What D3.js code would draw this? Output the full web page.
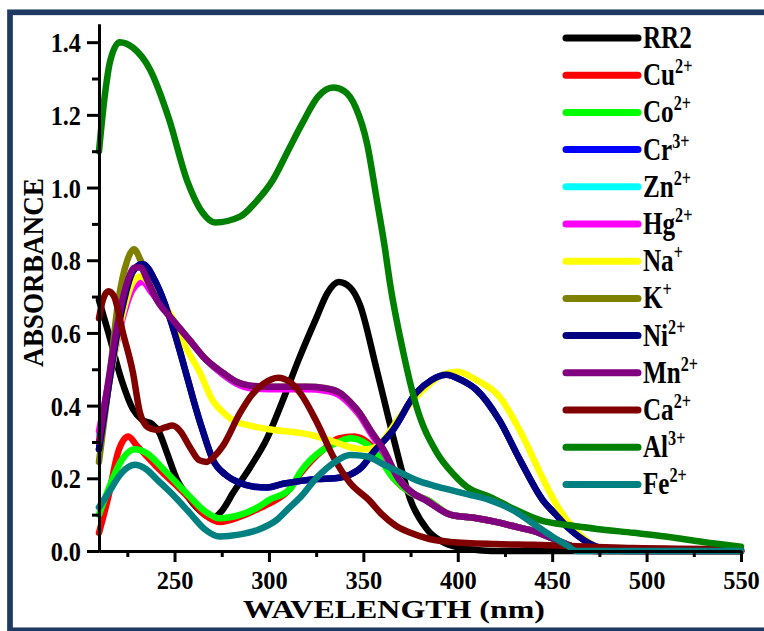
<!DOCTYPE html>
<html>
<head>
<meta charset="utf-8">
<script src="https://cdn.jsdelivr.net/npm/d3@7"></script>
<style>
  html, body { margin: 0; padding: 0; background: #ffffff; }
  svg { display: block; }
</style>
</head>
<body>
<div id="chart"></div>
<script>
// ---- data: [wavelength (nm), absorbance] ----
const rr2 = [[210,0.69],[215,0.6],[222,0.47],[228,0.39],[233,0.36],[238,0.35],[242,0.325],[246,0.27],[251,0.2],[257,0.15],[263,0.113],[270,0.09],[275,0.11],[281,0.16],[290,0.23],[299,0.31],[307,0.41],[316,0.53],[325,0.64],[331,0.71],[337,0.74],[343,0.725],[348,0.68],[357,0.5],[366,0.31],[375,0.14],[384,0.058],[392,0.025],[400,0.01],[410,0.003],[420,0],[550,0]];
const cu = [[210,0.05],[215,0.15],[220,0.27],[225.5,0.315],[230,0.29],[240,0.235],[250,0.185],[258,0.145],[266,0.1],[274,0.08],[285,0.095],[294,0.115],[300,0.13],[311,0.17],[317,0.215],[329,0.28],[337,0.31],[345,0.315],[352,0.3],[358,0.265],[366,0.2],[375,0.16],[384,0.14],[396,0.1],[410,0.09],[422,0.078],[432,0.065],[440,0.055],[450,0.035],[458,0.018],[466,0.003],[475,0],[550,0]];
const co = [[210,0.10],[215,0.17],[222,0.25],[229,0.28],[235,0.27],[245,0.22],[258,0.15],[266,0.11],[274,0.09],[285,0.1],[294,0.12],[300,0.14],[311,0.17],[317,0.22],[329,0.28],[337,0.30],[343,0.31],[350,0.30],[355,0.28],[366,0.2],[375,0.16],[384,0.14],[396,0.1],[410,0.09],[422,0.078],[432,0.065],[440,0.055],[450,0.035],[458,0.018],[466,0.003],[475,0],[550,0]];
const cr = [[210,0.28],[215,0.45],[222,0.66],[228,0.77],[233,0.79],[240,0.74],[247.6,0.64],[256.6,0.48],[260,0.416],[265,0.33],[270.4,0.25],[277,0.21],[284.7,0.187],[292,0.177],[299,0.175],[307.5,0.185],[317,0.193],[325.5,0.198],[335,0.2],[343,0.21],[349,0.23],[355,0.27],[365.7,0.333],[378,0.435],[386,0.47],[394,0.485],[402,0.47],[410,0.443],[422,0.36],[433,0.25],[445,0.14],[452,0.1],[458,0.066],[464,0.04],[470,0.02],[480,0.003],[490,0],[550,0]];
const zn = [[210,0.32],[215,0.46],[222,0.64],[228,0.74],[233,0.75],[240,0.7],[249,0.636],[258,0.58],[266,0.53],[275.7,0.485],[283,0.46],[290,0.45],[300,0.447],[320,0.447],[330,0.443],[337.6,0.43],[343,0.405],[348,0.375],[354,0.325],[360.5,0.275],[369,0.196],[376,0.16],[383,0.14],[396,0.1],[410,0.09],[422,0.078],[432,0.065],[440,0.055],[450,0.035],[458,0.018],[466,0.003],[475,0],[550,0]];
const hg = [[210,0.33],[215,0.46],[222,0.63],[228,0.72],[233,0.74],[238,0.71],[249,0.636],[258,0.58],[266,0.53],[275.7,0.485],[283,0.46],[290,0.448],[300,0.445],[320,0.445],[330,0.441],[337.6,0.428],[343,0.403],[348,0.373],[354,0.323],[360.5,0.273],[369,0.196],[376,0.16],[383,0.14],[396,0.1],[410,0.09],[422,0.078],[432,0.065],[440,0.055],[450,0.035],[458,0.018],[466,0.003],[475,0],[550,0]];
const na = [[210,0.3],[215,0.45],[222,0.64],[228,0.74],[232,0.755],[240,0.71],[249,0.64],[256,0.56],[263.5,0.49],[270,0.416],[276,0.38],[281,0.36],[290,0.345],[300,0.335],[307.5,0.33],[316.5,0.325],[325.5,0.315],[337.6,0.295],[345,0.283],[352,0.28],[356,0.285],[360.5,0.305],[369.4,0.37],[381.6,0.443],[392,0.485],[400,0.493],[410,0.47],[422,0.425],[433,0.33],[445,0.2],[452,0.13],[460,0.07],[468,0.03],[475,0.008],[485,0],[550,0]];
const k = [[210,0.245],[215,0.45],[220,0.68],[225,0.8],[228.5,0.83],[232,0.8],[237,0.73],[241,0.69],[249,0.636],[258,0.58],[266,0.53],[275.7,0.49],[283,0.465],[290,0.455],[300,0.452],[320,0.452],[330,0.448],[337.6,0.435],[343,0.41],[348,0.38],[354,0.33],[360.5,0.28],[369,0.196],[376,0.16],[383,0.14],[396,0.1],[410,0.09],[422,0.078],[432,0.065],[440,0.055],[450,0.035],[458,0.018],[466,0.003],[475,0],[550,0]];
const ni = [[210,0.28],[215,0.45],[222,0.66],[228,0.77],[233,0.79],[240,0.74],[247.6,0.64],[256.6,0.48],[260,0.416],[265,0.33],[270.4,0.25],[277,0.21],[284.7,0.187],[292,0.177],[299,0.175],[307.5,0.185],[317,0.193],[325.5,0.198],[335,0.2],[343,0.21],[349,0.23],[355,0.27],[365.7,0.333],[378,0.435],[386,0.47],[394,0.485],[402,0.47],[410,0.443],[422,0.36],[433,0.25],[445,0.14],[452,0.1],[458,0.066],[464,0.04],[470,0.02],[480,0.003],[490,0],[550,0]];
const mn = [[210,0.3],[215,0.47],[220,0.63],[225,0.74],[229,0.78],[232,0.78],[236,0.74],[240.7,0.69],[249,0.636],[258,0.58],[266,0.53],[275.7,0.49],[283,0.465],[290,0.455],[300,0.452],[320,0.452],[330,0.448],[337.6,0.435],[343,0.41],[348,0.38],[354,0.33],[360.5,0.28],[369,0.196],[376,0.16],[383,0.14],[396,0.1],[410,0.09],[422,0.078],[432,0.065],[440,0.055],[450,0.035],[458,0.018],[466,0.003],[475,0],[550,0]];
const ca = [[210,0.64],[212,0.69],[215,0.715],[218,0.7],[222.7,0.6],[228,0.49],[231.7,0.38],[236,0.34],[240.7,0.333],[245,0.34],[249,0.345],[253,0.33],[258,0.287],[263,0.25],[267,0.245],[271,0.26],[275.7,0.29],[284.7,0.38],[291,0.43],[297,0.46],[305,0.477],[311,0.465],[316.5,0.435],[325.5,0.353],[334,0.26],[343,0.187],[353,0.14],[360,0.1],[367,0.07],[375,0.05],[385,0.033],[396,0.025],[420,0.019],[440,0.017],[470,0.012],[493,0.008],[550,0.005]];
const al = [[210,1.1],[213,1.25],[216,1.35],[221,1.40],[228,1.385],[237,1.325],[247,1.19],[256.6,1.02],[265,0.93],[271.5,0.904],[284.7,0.92],[293,0.96],[302,1.02],[310,1.1],[318,1.18],[326,1.25],[334,1.275],[340,1.265],[346,1.22],[352,1.12],[357,0.97],[361.5,0.83],[364,0.74],[371,0.55],[378,0.4],[389,0.27],[398,0.21],[405,0.176],[417,0.149],[430,0.115],[443.6,0.085],[460,0.07],[475,0.06],[493,0.05],[510,0.04],[530,0.025],[550,0.012]];
const fe = [[210,0.12],[215,0.16],[222,0.215],[229,0.237],[235,0.225],[241,0.195],[250,0.15],[258,0.105],[266,0.06],[274,0.04],[284,0.045],[294,0.058],[304,0.085],[311,0.12],[317,0.15],[325,0.2],[335,0.245],[343,0.264],[352,0.26],[360,0.24],[370,0.215],[378,0.195],[387,0.18],[396,0.168],[406,0.155],[417,0.14],[430,0.11],[440,0.075],[450,0.04],[458,0.015],[463,0],[550,0]];

const seriesNames = ["RR2","Cu","Co","Cr","Zn","Hg","Na","K","Ni","Mn","Ca","Al","Fe"];
const seriesCharges = ["","2+","2+","3+","2+","2+","+","+","2+","2+","2+","3+","2+"];
const seriesColors = ["#000000","#ff0000","#00ff00","#0000ff","#00ffff","#ff00ff","#ffff00","#808000","#000080","#800080","#800000","#008000","#008080"];
const seriesData = [rr2, cu, co, cr, zn, hg, na, k, ni, mn, ca, al, fe];

const xMajorTicks = [250, 300, 350, 400, 450, 500, 550];
const xMinorTicks = [225, 275, 325, 375, 425, 475, 525];
const yMajorTicks = [0.0, 0.2, 0.4, 0.6, 0.8, 1.0, 1.2, 1.4];
const yMinorTicks = [0.1, 0.3, 0.5, 0.7, 0.9, 1.1, 1.3];

// ---- layout ----
const width = 764, height = 631;
const serif = "'Liberation Serif', 'Times New Roman', serif";

const svg = d3.select("#chart").append("svg")
    .attr("width", width)
    .attr("height", height);

svg.append("rect").attr("width", width).attr("height", height).attr("fill", "#ffffff");

// frame
svg.append("rect")
    .attr("x", 10).attr("y", 12.3)
    .attr("width", 800).attr("height", 618)
    .attr("fill", "none")
    .attr("stroke", "#1e3a63")
    .attr("stroke-width", 5.7);

const x = d3.scaleLinear().domain([210, 550]).range([99, 741]);
const y = d3.scaleLinear().domain([0, 1.45]).range([551, 24]);

// ---- curves ----
const line = d3.line()
    .x(d => x(d[0]))
    .y(d => y(d[1]))
    .curve(d3.curveMonotoneX);

const plot = svg.append("g");
seriesData.forEach((s, i) => {
    plot.append("path")
        .attr("d", line(s))
        .attr("fill", "none")
        .attr("stroke", seriesColors[i])
        .attr("stroke-width", 6.5)
        .attr("stroke-linejoin", "round")
        .attr("stroke-linecap", "round");
});

// ---- axes ----
function styleAxis(g) {
    g.select(".domain").attr("stroke", "#000").attr("stroke-width", 3);
    g.selectAll(".tick line").attr("stroke", "#000").attr("stroke-width", 3);
}

const xAxisG = svg.append("g").attr("transform", `translate(0,${y(0)})`);
xAxisG.append("g")
    .call(d3.axisBottom(x).tickValues(xMinorTicks).tickSize(6).tickSizeOuter(0).tickFormat(""))
    .call(styleAxis);
xAxisG.append("g")
    .call(d3.axisBottom(x).tickValues(xMajorTicks).tickSize(11).tickSizeOuter(0))
    .call(styleAxis)
    .call(g => g.selectAll(".tick text")
        .attr("y", 0).attr("dy", 0)
        .attr("transform", "translate(0,38) scale(0.94,1)")
        .attr("font-family", serif)
        .attr("font-weight", "bold")
        .attr("font-size", 26)
        .attr("fill", "#000"));

const yAxisG = svg.append("g").attr("transform", `translate(${x(210)},0)`);
yAxisG.append("g")
    .call(d3.axisLeft(y).tickValues(yMinorTicks).tickSize(7).tickSizeOuter(0).tickFormat(""))
    .call(styleAxis);
yAxisG.append("g")
    .call(d3.axisLeft(y).tickValues(yMajorTicks).tickSize(12).tickSizeOuter(0).tickFormat(d3.format(".1f")))
    .call(styleAxis)
    .call(g => g.selectAll(".tick text")
        .attr("x", 0).attr("dy", "0.35em")
        .attr("transform", "translate(-18,0) scale(0.9,1)")
        .attr("font-family", serif)
        .attr("font-weight", "bold")
        .attr("font-size", 27)
        .attr("fill", "#000"));

// axis titles
svg.append("text")
    .attr("x", 243).attr("y", 618)
    .attr("font-family", serif)
    .attr("font-weight", "bold")
    .attr("font-size", 26)
    .attr("textLength", 302)
    .attr("lengthAdjust", "spacingAndGlyphs")
    .text("WAVELENGTH (nm)");

svg.append("text")
    .attr("transform", "translate(43,367) rotate(-90)")
    .attr("font-family", serif)
    .attr("font-weight", "bold")
    .attr("font-size", 30)
    .attr("textLength", 189)
    .attr("lengthAdjust", "spacingAndGlyphs")
    .text("ABSORBANCE");

// ---- legend ----
const legend = svg.append("g");
seriesNames.forEach((name, i) => {
    const ly = 38 + i * 37.2;
    legend.append("line")
        .attr("x1", 566).attr("x2", 638)
        .attr("y1", ly).attr("y2", ly)
        .attr("stroke", seriesColors[i])
        .attr("stroke-width", 7)
        .attr("stroke-linecap", "round");
    const t = legend.append("text")
        .attr("transform", `translate(643,${ly + 10}) scale(0.81,1)`)
        .attr("font-family", serif)
        .attr("font-weight", "bold")
        .attr("font-size", 31)
        .attr("fill", "#000");
    t.append("tspan").text(name);
    if (seriesCharges[i]) {
        t.append("tspan")
            .attr("dy", -12)
            .attr("font-size", 20)
            .text(seriesCharges[i]);
    }
});
</script>
</body>
</html>
